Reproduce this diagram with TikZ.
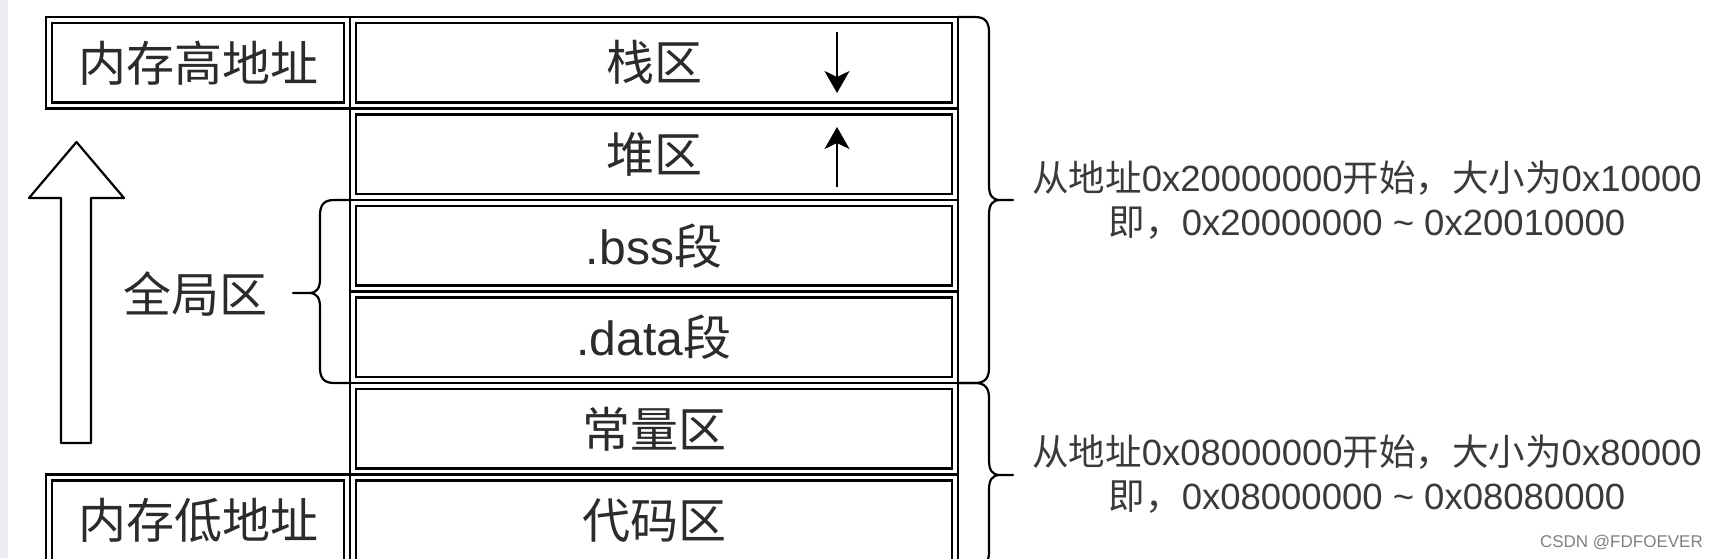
\documentclass[tikz,border=0pt]{standalone}
\usepackage{fontspec}
\setmainfont{Liberation Sans}
\newfontfamily\cjk{Noto Sans CJK SC}
\usetikzlibrary{arrows.meta,calc}
\definecolor{txt}{HTML}{2B2B2B}
\definecolor{txtb}{HTML}{3A3A3A}
\definecolor{strip}{HTML}{EDEEF3}
\definecolor{wm}{HTML}{808080}
\newcommand\innerrect[1]{\draw[innerline] ($(#1.north west)+(6,6)$) rectangle ($(#1.south east)+(-6,-6)$);}
\begin{document}
\begin{tikzpicture}[x=1pt,y=-1pt,
  memcell/.style={draw=black, line width=2.2pt, minimum width=608pt, minimum height=91.5pt,
    inner sep=0pt, outer sep=0pt, anchor=north west, text=txt, font=\fontsize{48}{48}\selectfont},
  addrbox/.style={memcell, minimum width=304pt},
  innerline/.style={draw=black, line width=2.2pt},
  growarrow/.style={line width=2.4pt, -{Stealth[length=22pt,width=25pt,inset=6pt]}},
  bracepath/.style={draw=black, line width=2.2pt, line join=round},
  hollowarrow/.style={draw=black, line width=2.2pt, line join=round},
  notetext/.style={text=txtb, align=center, font=\fontsize{36.5}{44}\selectfont, inner sep=0pt},
  sidelabel/.style={text=txt, font=\fontsize{48}{48}\selectfont, inner sep=0pt}]
\useasboundingbox (0,0) rectangle (1718,558);
\clip (0,0) rectangle (1718,558);
\fill[white] (0,0) rectangle (1718,558);
\fill[strip] (0,0) rectangle (7.5,558);

% memory column
\node[memcell] (stack) at (350,17) {\cjk 栈区};
\node[memcell] (heap)  at (350,108.5) {\cjk 堆区};
\node[memcell] (bss)   at (350,200) {.bss{\cjk 段}};
\node[memcell] (data)  at (350,291.5) {.data{\cjk 段}};
\node[memcell] (const) at (350,383) {\cjk 常量区};
\node[memcell] (codez) at (350,474.5) {\cjk 代码区};
\foreach \n in {stack,heap,bss,data,const,codez} {\innerrect{\n}}

% address boxes
\node[addrbox] (hi) at (46,17) {\cjk 内存高地址};
\node[addrbox] (lo) at (46,474.5) {\cjk 内存低地址};
\innerrect{hi}
\innerrect{lo}

% growth arrows
\coordinate (s1) at (837,32);
\coordinate (s2) at (837,93);
\coordinate (h1) at (837,187);
\coordinate (h2) at (837,127);
\draw[growarrow] (s1) -- (s2);
\draw[growarrow] (h1) -- (h2);

% big hollow arrow
\draw[hollowarrow] (61,443) -- (61,198) -- (29,198) -- (76.5,142) -- (124,198) -- (91,198) -- (91,443) -- cycle;

% global-area brace
\draw[bracepath] (bss.north west) -- (334,200) .. controls (324,200) and (320,205) .. (320,215)
  -- (320,279) .. controls (320,288) and (317,293) .. (309,293) -- (293,293)
  -- (309,293) .. controls (317,293) and (320,298) .. (320,307)
  -- (320,368) .. controls (320,378) and (324,383) .. (334,383) -- (data.south west);
\node[sidelabel] (glob) at (195,294) {\cjk 全局区};

% right braces
\draw[bracepath] (stack.north east) -- (975,17) .. controls (985,17) and (989,22) .. (989,32)
  -- (989,185) .. controls (989,195) and (992,200) .. (1000,200) -- (1013,200)
  -- (1000,200) .. controls (992,200) and (989,205) .. (989,215)
  -- (989,368) .. controls (989,378) and (985,383) .. (975,383) -- (data.south east);
\draw[bracepath] (const.north east) -- (975,383) .. controls (985,383) and (989,388) .. (989,398)
  -- (989,460) .. controls (989,470) and (992,475) .. (1000,475) -- (1013,475)
  -- (1000,475) .. controls (992,475) and (989,480) .. (989,490)
  -- (989,552) .. controls (989,562) and (985,567) .. (975,567) -- (codez.south east);

\node[notetext] (n1) at (1367,200.5) {{\cjk 从地址}0x20000000{\cjk 开始，大小为}0x10000\\{\cjk 即，}0x20000000 \textasciitilde{} 0x20010000};
\node[notetext] (n2) at (1367,474) {{\cjk 从地址}0x08000000{\cjk 开始，大小为}0x80000\\{\cjk 即，}0x08000000 \textasciitilde{} 0x08080000};

\node[text=wm, font=\fontsize{17}{17}\selectfont, anchor=base east, inner sep=0pt] (wmk) at (1703,547) {CSDN @FDFOEVER};
\end{tikzpicture}
\end{document}
